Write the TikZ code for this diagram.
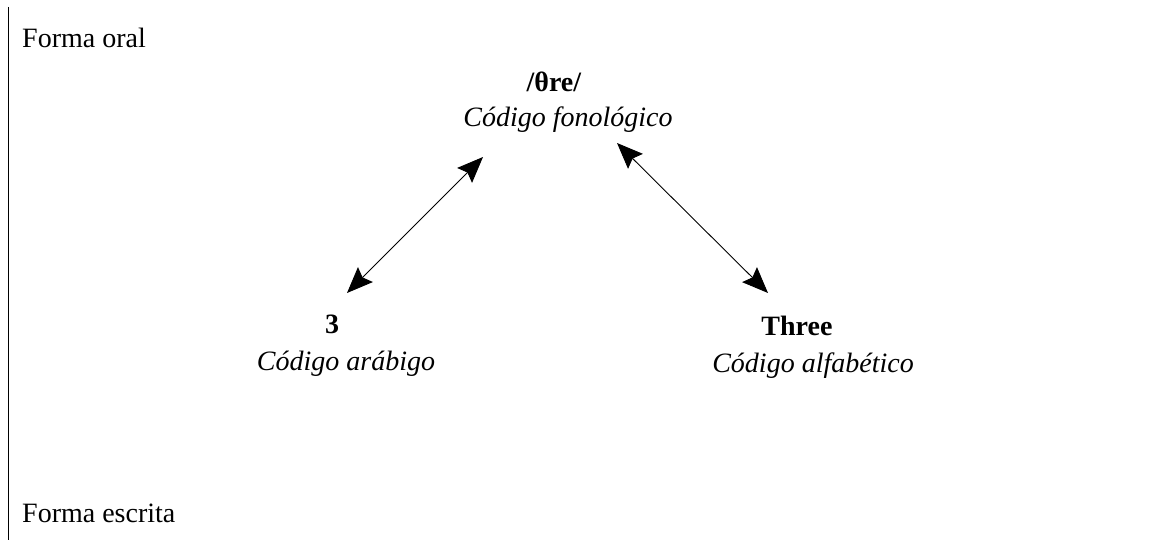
\documentclass[tikz,border=0pt]{standalone}
\usepackage{fontspec}
\setmainfont{Liberation Serif}
\usetikzlibrary{arrows.meta}
\begin{document}
\begin{tikzpicture}[x=1pt,y=-1pt,
  lbl/.style={anchor=base,inner sep=0pt,font=\fontsize{28}{34}\selectfont},
  lblleft/.style={lbl,anchor=base west},
  link/.style={line width=0.9pt,{Stealth[length=26pt,width=21pt,inset=4pt]}-{Stealth[length=26pt,width=21pt,inset=4pt]}}]
  \useasboundingbox (0,0) rectangle (1172,540);
  % vertical rule on the left
  \coordinate (rtop) at (8,7);
  \coordinate (rbot) at (8,540);
  \draw[line width=1pt] (rtop) -- (rbot);
  % side captions
  \node[lblleft] (oral) at (22,48) {Forma oral};
  \node[lblleft] (escrita) at (22,522) {Forma escrita};
  % phonological code
  \node[lbl] (fon) at (554,92) {\textbf{/θre/}};
  \node[lbl] (fonc) at (568,127) {\textit{Código fonológico}};
  % arabic code
  \node[lbl] (arab) at (332,333) {\textbf{3}};
  \node[lbl] (arabc) at (346,370) {\textit{Código arábigo}};
  % alphabetic code
  \node[lbl] (alf) at (797,335) {\textbf{Three}};
  \node[lbl] (alfc) at (813,372) {\textit{Código alfabético}};
  % arrow end points
  \coordinate (l1) at (483,157);
  \coordinate (l2) at (347,293);
  \coordinate (r1) at (617,143);
  \coordinate (r2) at (768,293);
  \draw[link] (l1) -- (l2);
  \draw[link] (r1) -- (r2);
\end{tikzpicture}
\end{document}
